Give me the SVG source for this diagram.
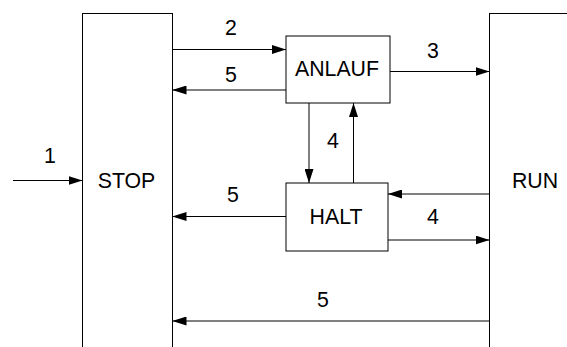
<svg xmlns="http://www.w3.org/2000/svg" width="567" height="347" viewBox="0 0 567 347">
<style>
.box{fill:#fff;stroke:#000;stroke-width:1}
.ln{fill:none;stroke:#000;stroke-width:1;marker-end:url(#ah)}
text{font-family:"Liberation Sans",Arial,sans-serif;font-size:21.3px;fill:#000;text-anchor:middle}
</style>
<defs>
<marker id="ah" markerUnits="userSpaceOnUse" markerWidth="14" markerHeight="9" refX="14" refY="4.5" orient="auto" viewBox="0 0 14 9">
<path d="M0,0 L14,4.5 L0,9 z" fill="#000"/>
</marker>
</defs>
<g id="stop"><rect class="box" x="82.5" y="13.5" width="90" height="360"/><text x="126.5" y="188">STOP</text></g>
<g id="run"><rect class="box" x="489.5" y="13.5" width="100" height="360"/><text x="535" y="188">RUN</text></g>
<g id="anlauf"><rect class="box" x="286" y="36" width="104" height="67"/><text x="337" y="76">ANLAUF</text></g>
<g id="halt"><rect class="box" x="286" y="183" width="102" height="68"/><text x="336" y="224">HALT</text></g>
<g id="connectors">
<line class="ln" x1="13" y1="180.5" x2="82.5" y2="180.5"/>
<line class="ln" x1="172.5" y1="49.5" x2="286" y2="49.5"/>
<line class="ln" x1="286" y1="90" x2="172.5" y2="90"/>
<line class="ln" x1="390" y1="71.5" x2="489.5" y2="71.5"/>
<line class="ln" x1="309" y1="103" x2="309" y2="183"/>
<line class="ln" x1="353.5" y1="183" x2="353.5" y2="103"/>
<line class="ln" x1="286" y1="216.5" x2="172.5" y2="216.5"/>
<line class="ln" x1="489.5" y1="194" x2="388" y2="194"/>
<line class="ln" x1="388" y1="240" x2="489.5" y2="240"/>
<line class="ln" x1="489.5" y1="321" x2="172.5" y2="321"/>
</g>
<g id="labels">
<text x="50" y="163">1</text>
<text x="231" y="35">2</text>
<text x="231" y="81.5">5</text>
<text x="433" y="58">3</text>
<text x="333" y="148">4</text>
<text x="233" y="202">5</text>
<text x="433" y="224">4</text>
<text x="323" y="307">5</text>
</g>
</svg>
